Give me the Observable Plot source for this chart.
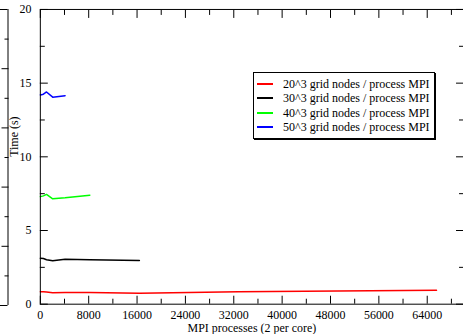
<!DOCTYPE html>
<html><head><meta charset="utf-8">
<script src="https://cdn.jsdelivr.net/npm/d3@7"></script>
<script src="https://cdn.jsdelivr.net/npm/@observablehq/plot@0.6"></script>
<style>
html,body{margin:0;padding:0;overflow:hidden;background:#fff}
#wrap{position:relative;width:463px;height:334px;overflow:hidden;font-family:'Liberation Serif','Tinos','Times New Roman','DejaVu Serif',serif;color:#000}
#wrap svg, #wrap svg text{font-family:'Liberation Serif','Tinos','Times New Roman','DejaVu Serif',serif !important}
#main,#side{position:absolute;left:0;top:0}
.legend{position:absolute;left:253px;top:72px;width:180px;height:65px;border:1px solid #000;box-shadow:1px 1px 0 #000;background:#fff;font-size:12px}
.row{position:absolute;left:0;height:14px;line-height:14px;white-space:nowrap}
.sw{position:absolute;left:3px;top:6px;width:16px;height:2px}
.lb{position:absolute;left:29px;top:0}
</style>
</head><body>
<div id="wrap"><div id="main"></div><div id="side"></div><div class="legend" id="legend"></div></div>
<script>
// ---- data ----
const seriesNames = ["20^3 grid nodes / process MPI","30^3 grid nodes / process MPI","40^3 grid nodes / process MPI","50^3 grid nodes / process MPI"];
const seriesColors = ["#ff0000","#000000","#00ff00","#0000ff"];
const procs = [8, 512, 1024, 2048, 4096, 8192, 16384, 32768, 65536];
const t20 = [0.85, 0.85, 0.83, 0.78, 0.80, 0.80, 0.75, 0.85, 0.95];
const t30 = [3.12, 3.10, 3.02, 2.95, 3.05, 3.02, 2.97];
const t40 = [7.30, 7.35, 7.45, 7.15, 7.22, 7.40];
const t50 = [14.20, 14.25, 14.40, 14.05, 14.15];
const xMajor = [0, 8000, 16000, 24000, 32000, 40000, 48000, 56000, 64000];
const xMinor = [4000, 12000, 20000, 28000, 36000, 44000, 52000, 60000, 68000];
const yMajor = [0, 5, 10, 15, 20];
const yMinor = [2.5, 7.5, 12.5, 17.5];
const sideMajor = [1, 2, 3, 4];
const sideMinor = [0.5, 1.5, 2.5, 3.5, 4.5];
const xLabel = "MPI processes (2 per core)";
const yLabel = "Time (s)";

const rows = [];
[t20, t30, t40, t50].forEach((ts, i) => ts.forEach((t, j) => rows.push({series: seriesNames[i], procs: procs[j], time: t})));

const blank = () => "";
const main = Plot.plot({
  width: 465, height: 334,
  marginLeft: 40, marginRight: 0, marginTop: 9, marginBottom: 29,
  style: {fontSize: "12px", color: "#000", background: "transparent", overflow: "visible"},
  x: {domain: [0, 70000]},
  y: {domain: [0, 20]},
  color: {domain: seriesNames, range: seriesColors},
  marks: [
    Plot.line(rows, {x: "procs", y: "time", z: "series", stroke: "series", strokeWidth: 1.5}),
    Plot.frame({stroke: "#000"}),
    Plot.axisY(yMajor, {anchor: "left", tickSize: -8, tickPadding: 17, label: null}),
    Plot.axisY(yMinor, {anchor: "left", tickSize: -5, tickFormat: blank, label: null}),
    Plot.axisY(yMajor, {anchor: "right", tickSize: -8, tickFormat: blank, label: null}),
    Plot.axisY(yMinor, {anchor: "right", tickSize: -5, tickFormat: blank, label: null}),
    Plot.axisX(xMajor, {anchor: "bottom", tickSize: -8, tickPadding: 14, label: null, tickFormat: d => String(d)}),
    Plot.axisX(xMinor, {anchor: "bottom", tickSize: -5, tickFormat: blank, label: null}),
    Plot.axisX(xMajor, {anchor: "top", tickSize: -8, tickFormat: blank, label: null}),
    Plot.axisX(xMinor, {anchor: "top", tickSize: -5, tickFormat: blank, label: null}),
    Plot.text([xLabel], {frameAnchor: "bottom", lineAnchor: "top", dy: 19, fontSize: 12}),
    Plot.text([yLabel], {frameAnchor: "left", rotate: -90, dx: -26, fontSize: 12})
  ]
});
document.getElementById("main").appendChild(main);

const side = Plot.plot({
  width: 9, height: 334,
  marginLeft: 0, marginRight: 1.5, marginTop: 9, marginBottom: 29,
  style: {background: "transparent", overflow: "visible"},
  x: {domain: [0, 1], axis: null},
  y: {domain: [0, 5], axis: null},
  marks: [
    Plot.ruleY([0, 5], {stroke: "#000"}),
    Plot.ruleX([1], {stroke: "#000"}),
    Plot.axisY(sideMajor, {anchor: "right", tickSize: -7, tickFormat: blank, label: null}),
    Plot.axisY(sideMinor, {anchor: "right", tickSize: -4, tickFormat: blank, label: null})
  ]
});
document.getElementById("side").appendChild(side);

const lg = document.getElementById("legend");
seriesNames.forEach((n, i) => {
  const r = document.createElement("div");
  r.className = "row";
  r.style.top = Math.round(4 + i * 14.3) + "px";
  const sw = document.createElement("div");
  sw.className = "sw";
  sw.style.background = seriesColors[i];
  const lb = document.createElement("div");
  lb.className = "lb";
  lb.textContent = n;
  r.appendChild(sw); r.appendChild(lb);
  lg.appendChild(r);
});
</script>
</body></html>
